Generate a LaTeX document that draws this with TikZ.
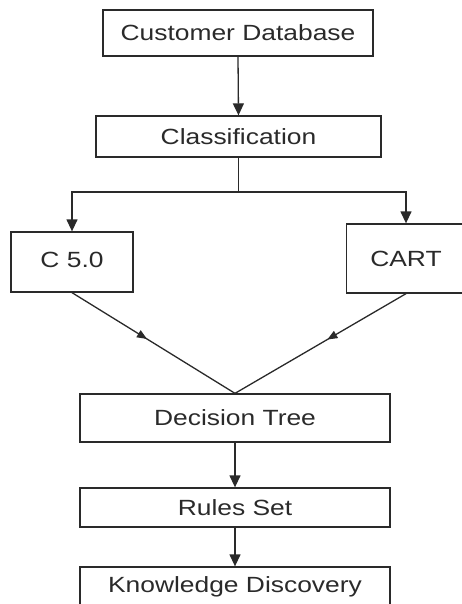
\documentclass[tikz,border=0pt]{standalone}
\usepackage{fontspec}
\setmainfont[FakeStretch=1.2]{Liberation Sans}
\usetikzlibrary{arrows.meta,decorations.markings}
\definecolor{ink}{HTML}{2A2A2A}
\tikzset{
  box/.style={draw=ink, line width=1.3pt, rectangle, inner sep=0pt, text=ink,
    font=\fontsize{22}{24}\selectfont},
  conn/.style={draw=ink, line width=1.3pt},
  arr/.style={conn, -{Triangle[width=11pt,length=12pt]}},
  midarr/.style={conn, postaction={decorate}, decoration={markings,
    mark=at position #1 with {\arrow{Triangle[width=8pt,length=10pt]}}}}
}
\begin{document}
\begin{tikzpicture}[x=1pt,y=-1pt]
\useasboundingbox (0,0) rectangle (462,604);
\clip (0,0) rectangle (462,604);
\node[box, minimum width=270pt, minimum height=46pt] (cd) at (238,33) {Customer Database};
\node[box, minimum width=285pt, minimum height=41pt] (cl) at (238.5,136.5) {Classification};
\node[box, minimum width=122pt, minimum height=60pt] (c5) at (72,262) {\raisebox{4pt}{C 5.0}};
\node[box, minimum width=119pt, minimum height=69pt] (cart) at (406,258.5) {CART};
\node[box, minimum width=310pt, minimum height=48pt] (dt) at (235,418) {Decision Tree};
\node[box, minimum width=310pt, minimum height=39pt] (rs) at (235,507.5) {Rules Set};
\node[box, minimum width=310pt, minimum height=40pt] (kd) at (235,587) {Knowledge Discovery};
\coordinate (j) at (238.5,192);
\draw[arr] (cd.south) -- (cl.north);
\draw[conn] (cl.south) -- (j);
\draw[arr] (j) -| (c5.north);
\draw[arr] (j) -| (cart.north);
\draw[midarr=0.46] (c5.south) -- (dt.north);
\draw[midarr=0.46] (cart.south) -- (dt.north);
\draw[arr] (dt.south) -- (rs.north);
\draw[arr] (rs.south) -- (kd.north);
\end{tikzpicture}
\end{document}
